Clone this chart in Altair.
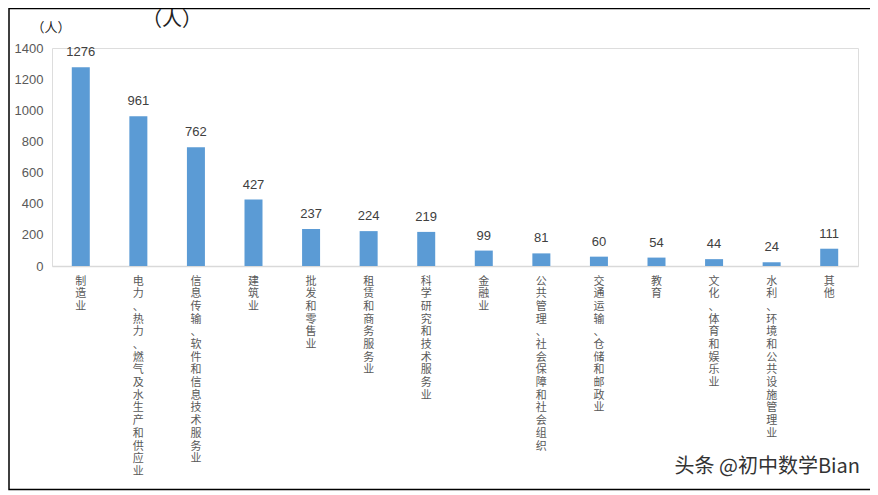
import altair as alt
import pandas as pd

categories = [
    "制造业",
    "电力、热力、燃气及水生产和供应业",
    "信息传输、软件和信息技术服务业",
    "建筑业",
    "批发和零售业",
    "租赁和商务服务业",
    "科学研究和技术服务业",
    "金融业",
    "公共管理、社会保障和社会组织",
    "交通运输、仓储和邮政业",
    "教育",
    "文化、体育和娱乐业",
    "水利、环境和公共设施管理业",
    "其他",
]
values = [1276, 961, 762, 427, 237, 224, 219, 99, 81, 60, 54, 44, 24, 111]
y_ticks = [0, 200, 400, 600, 800, 1000, 1200, 1400]

df = pd.DataFrame({"industry": categories, "count": values})

CJK = "Noto Sans CJK SC"
NUM = "Liberation Sans"

x_enc = alt.X(
    "industry:N",
    sort=categories,
    title=None,
    scale=alt.Scale(paddingInner=0.69, paddingOuter=0.345),
    axis=alt.Axis(
        labelExpr="split(datum.label, '')",
        labelAngle=0,
        labelAlign="center",
        labelBaseline="top",
        labelFont=CJK,
        labelFontSize=11,
        labelLineHeight=12.7,
        labelColor="#595959",
        labelPadding=9,
        ticks=False,
        domainColor="#d9d9d9",
        domainWidth=1.5,
        labelOverlap=False,
        labelLimit=0,
    ),
)
y_enc = alt.Y(
    "count:Q",
    title=None,
    scale=alt.Scale(domain=[0, 1400], nice=False),
    axis=alt.Axis(
        values=y_ticks,
        format="d",
        grid=False,
        domain=False,
        ticks=False,
        labelOverlap=False,
        labelFont=NUM,
        labelFontSize=13,
        labelColor="#595959",
        labelPadding=9,
    ),
)

base = alt.Chart(df)
bars = base.mark_bar(color="#5B9BD5", size=18).encode(x=x_enc, y=y_enc)
labels = base.mark_text(
    baseline="bottom", dy=-8, font=NUM, fontSize=13, color="#404040"
).encode(x=x_enc, y=y_enc, text="count:Q")

one = pd.DataFrame({"k": [0]})
title_big = alt.Chart(one).mark_text(
    text="（人）", font=CJK, fontSize=20, color="#222222", baseline="middle"
).encode(x=alt.value(120), y=alt.value(-28))
title_small = alt.Chart(one).mark_text(
    text="（人）", font=CJK, fontSize=13, color="#222222", baseline="middle"
).encode(x=alt.value(-1), y=alt.value(-20))
watermark = alt.Chart(one).mark_text(
    text="头条 @初中数学Bian", font=CJK, fontSize=20, color="#333333",
    align="right", baseline="middle"
).encode(x=alt.value(808), y=alt.value(419))
border = alt.Chart(one).mark_rect(
    fill="transparent", stroke="#000000", strokeWidth=1.5
).encode(x=alt.value(-43), x2=alt.value(820), y=alt.value(-39.5), y2=alt.value(441.5))

chart = (
    alt.layer(bars, labels, title_big, title_small, watermark, border)
    .properties(
        width=806,
        height=218,
        autosize=alt.AutoSizeParams(type="none"),
        padding={"left": 44, "top": 40, "right": 12, "bottom": 225},
    )
    .configure_view(stroke=None)
    .configure_axis(labelOverlap=False)
    .configure(background="white")
)

chart.save("out.html", embed_options={"renderer": "svg", "actions": False})
